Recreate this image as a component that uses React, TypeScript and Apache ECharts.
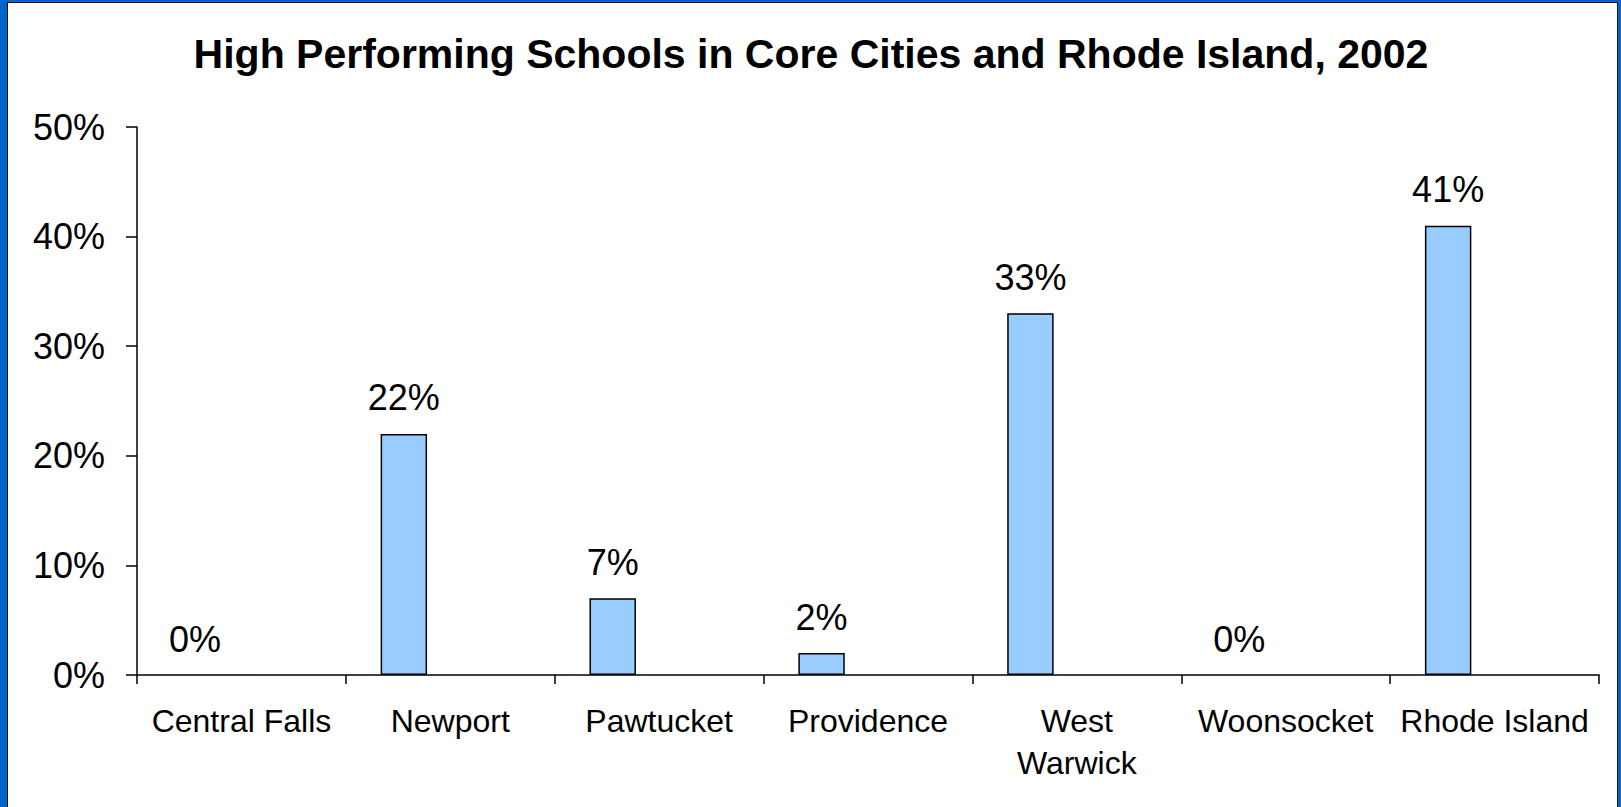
import React, { useEffect, useRef } from "react";
import * as echarts from "echarts";

const titleText = "High Performing Schools in Core Cities and Rhode Island, 2002";
const categories = [
  "Central Falls",
  "Newport",
  "Pawtucket",
  "Providence",
  "West\nWarwick",
  "Woonsocket",
  "Rhode Island",
];
const highPerforming = [0, 22, 7, 2, 33, 0, 41];
const yTicks = { min: 0, max: 50, interval: 10 };

const FONT = '"Liberation Sans", Arial, sans-serif';

export default function App() {
  const ref = useRef<HTMLDivElement>(null);

  useEffect(() => {
    if (!ref.current) return;
    const chart = echarts.init(ref.current, undefined, { renderer: "svg" });
    const barData = highPerforming.map((v) =>
      v === 0 ? { value: v, itemStyle: { color: "transparent", borderWidth: 0 } } : v
    );
    chart.setOption({
      animation: false,
      backgroundColor: "transparent",
      textStyle: { fontFamily: FONT },
      graphic: [
        {
          type: "text",
          x: 811,
          y: 54,
          style: {
            text: titleText,
            align: "center",
            verticalAlign: "middle",
            fontFamily: FONT,
            fontSize: 41,
            fontWeight: "bold",
            fill: "#000",
          },
        },
      ],
      grid: { left: 137, right: 22, top: 127, bottom: 132, containLabel: false },
      xAxis: {
        type: "category",
        data: categories,
        axisLine: { show: true, lineStyle: { color: "#000", width: 1.5 } },
        axisTick: { show: true, length: 9, interval: 0, lineStyle: { color: "#000", width: 1.5 } },
        axisLabel: {
          interval: 0,
          margin: 25,
          color: "#000",
          fontFamily: FONT,
          fontSize: 32,
          lineHeight: 42,
        },
        splitLine: { show: false },
      },
      yAxis: {
        type: "value",
        min: yTicks.min,
        max: yTicks.max,
        interval: yTicks.interval,
        axisLine: { show: true, lineStyle: { color: "#000", width: 1.5 } },
        axisTick: { show: true, length: 11, lineStyle: { color: "#000", width: 1.5 } },
        axisLabel: {
          margin: 32,
          color: "#000",
          fontFamily: FONT,
          fontSize: 36,
          formatter: "{value}%",
        },
        splitLine: { show: false },
      },
      series: [
        {
          type: "bar",
          data: barData,
          barGap: "0%",
          barCategoryGap: "33.3%",
          itemStyle: { color: "#99CCFF", borderColor: "#000", borderWidth: 1.5 },
          label: {
            show: true,
            position: "top",
            distance: 18,
            formatter: "{c}%",
            color: "#000",
            fontFamily: FONT,
            fontSize: 36,
          },
        },
        { type: "bar", data: [], barGap: "0%", barCategoryGap: "33.3%" },
        { type: "bar", data: [], barGap: "0%", barCategoryGap: "33.3%" },
      ],
    });
    return () => chart.dispose();
  }, []);

  return (
    <div
      style={{
        position: "absolute",
        left: 0,
        top: 0,
        width: 1621,
        height: 807,
        background: "#0066CC",
        overflow: "hidden",
      }}
    >
      <div
        style={{
          position: "absolute",
          left: 7,
          top: 2,
          width: 1611,
          height: 810,
          background: "#fff",
          border: "1px solid #111",
          boxSizing: "border-box",
        }}
      />
      <div ref={ref} style={{ position: "absolute", left: 0, top: 0, width: 1621, height: 807 }} />
    </div>
  );
}
